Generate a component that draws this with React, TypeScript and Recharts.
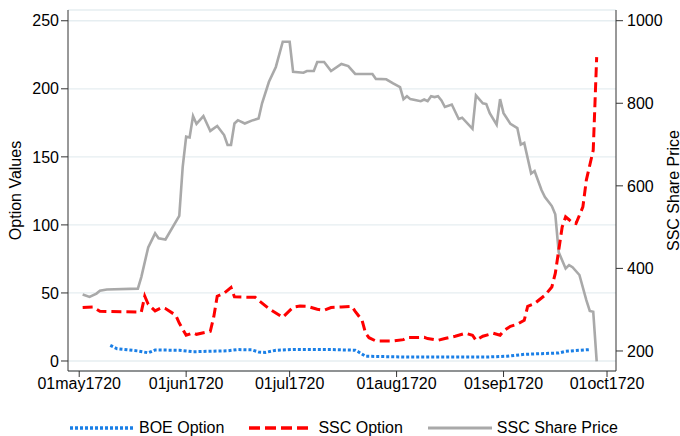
import React from 'react';
import { LineChart, Line, XAxis, YAxis, CartesianGrid, Legend, Label } from 'recharts';

// x values are days since 01may1720
const xTickDays = [0, 31, 61, 92, 123, 153];
const xTickLabels = ['01may1720', '01jun1720', '01jul1720', '01aug1720', '01sep1720', '01oct1720'];
const leftTicks = [0, 50, 100, 150, 200, 250];
const rightTicks = [200, 400, 600, 800, 1000];

const boeDays = [9, 11, 17, 20, 22, 29, 33, 43, 46, 50, 52, 54, 57, 62, 73, 80, 81, 83, 95, 107, 118, 124, 129, 134, 139, 141, 148];
const boeValues = [11.5, 9.0, 7.4, 6.0, 8.1, 7.9, 6.8, 7.5, 8.4, 8.2, 6.6, 6.3, 7.9, 8.5, 8.4, 7.9, 6.6, 3.5, 2.9, 2.9, 2.9, 3.5, 4.9, 5.4, 5.9, 7.1, 8.4];

const sscDays = [1, 4, 6, 18, 19, 20, 22, 24, 25, 28, 29, 31, 33, 34, 38, 39, 40, 42, 44, 45, 51, 52, 55, 59, 62, 64, 66, 69, 71, 73, 76, 79, 80, 82, 83, 84, 86, 91, 94, 95, 100, 101, 104, 106, 109, 112, 114, 115, 117, 120, 122, 123, 125, 127, 129, 130, 132, 135, 137, 138, 139, 140, 141, 142, 143, 144, 146, 147, 149, 150];
const sscValues = [39.3, 39.7, 36.5, 36.0, 47.6, 41.7, 36.8, 39.3, 38.5, 33.6, 27.9, 18.9, 20.7, 19.6, 21.8, 32.4, 47.6, 49.8, 54.0, 47.1, 46.8, 44.6, 38.5, 32.1, 39.5, 40.4, 40.2, 38.0, 37.3, 39.3, 39.7, 40.1, 36.5, 29.9, 20.4, 17.1, 14.7, 14.7, 15.7, 17.2, 17.4, 16.5, 15.2, 16.5, 18.2, 20.4, 18.9, 15.2, 18.2, 20.4, 18.9, 22.1, 25.5, 27.0, 29.9, 40.2, 42.2, 48.3, 54.4, 64.3, 81.4, 98.5, 105.9, 103.8, 101.5, 101.0, 113.2, 132.9, 154.9, 223.3];

const priceDays = [1, 3, 5, 6, 8, 17, 18, 20, 22, 23, 25, 29, 30, 31, 32, 33, 34, 36, 38, 40, 42, 43, 44, 45, 46, 48, 50, 52, 53, 55, 57, 59, 61, 62, 65, 66, 68, 69, 71, 73, 76, 78, 80, 85, 86, 89, 91, 93, 94, 95, 96, 99, 100, 101, 102, 103, 104, 105, 106, 108, 110, 111, 114, 115, 117, 118, 119, 121, 122, 123, 125, 127, 128, 129, 131, 132, 134, 135, 137, 138, 139, 141, 142, 143, 145, 147, 148, 149, 150];
const priceValues = [337, 331, 339, 346, 349, 351, 379, 451, 485, 473, 470, 527, 646, 719, 717, 769, 750, 769, 733, 745, 723, 699, 699, 751, 759, 751, 758, 763, 800, 852, 888, 949, 949, 876, 874, 878, 878, 900, 900, 878, 895, 890, 871, 871, 859, 858, 848, 839, 810, 817, 810, 805, 809, 805, 817, 815, 817, 807, 791, 797, 762, 765, 738, 819, 800, 798, 776, 748, 810, 776, 750, 740, 700, 704, 630, 636, 590, 573, 551, 531, 439, 400, 408, 403, 384, 323, 297, 295, 175];

const zip = (days: number[], vals: number[]) => days.map((d, i) => ({ d, v: vals[i] }));
const boeData = zip(boeDays, boeValues);
const sscData = zip(sscDays, sscValues);
const priceData = zip(priceDays, priceValues);

const FONT = "'Liberation Sans', Arial, Helvetica, sans-serif";
const BLUE = '#1a7fe6';
const RED = '#ff0000';
const GRAY = '#a9a9a9';
const AXIS = '#333333';

const legendItems = [
  { name: 'BOE Option', color: BLUE, dash: '3 2', width: 3.5 },
  { name: 'SSC Option', color: RED, dash: '11 5', width: 3.5 },
  { name: 'SSC Share Price', color: GRAY, dash: undefined, width: 3 },
];

const renderLegend = () => (
  <div style={{ position: 'relative', width: 680, height: 30, fontFamily: FONT, fontSize: 16, color: '#000' }}>
    <div style={{ position: 'absolute', left: 70, top: 14, display: 'flex', alignItems: 'center', lineHeight: '16px' }}>
      {legendItems.map((it, i) => (
        <div key={it.name} style={{ display: 'flex', alignItems: 'center', marginRight: i < legendItems.length - 1 ? 25 : 0 }}>
          <svg width={64} height={8} style={{ marginRight: 5, display: 'block' }}>
            <line x1={0} y1={4} x2={64} y2={4} stroke={it.color} strokeWidth={it.width} strokeDasharray={it.dash} />
          </svg>
          <span style={{ whiteSpace: 'nowrap' }}>{it.name}</span>
        </div>
      ))}
    </div>
  </div>
);

const leftTitle = (props: any) => {
  const vb = props.viewBox || { x: 0, y: 10, width: 68, height: 361 };
  const x = vb.x + 15;
  const y = vb.y + vb.height / 2;
  return (
    <text x={x} y={y} transform={`rotate(-90 ${x} ${y})`} textAnchor="middle" dominantBaseline="central" fontSize={16} fontFamily={FONT} fill="#000">
      Option Values
    </text>
  );
};

const rightTitle = (props: any) => {
  const vb = props.viewBox || { x: 616, y: 10, width: 64, height: 361 };
  const x = vb.x + 57;
  const y = vb.y + vb.height / 2;
  return (
    <text x={x} y={y} transform={`rotate(-90 ${x} ${y})`} textAnchor="middle" dominantBaseline="central" fontSize={16} fontFamily={FONT} fill="#000">
      SSC Share Price
    </text>
  );
};

export default function App() {
  return (
    <div style={{ position: 'absolute', left: 0, top: 0, width: 680, height: 436, background: '#fff', fontFamily: FONT }}>
      <LineChart width={680} height={436} margin={{ top: 10, right: 0, left: 0, bottom: 0 }}>
        <CartesianGrid yAxisId="left" vertical={false} stroke="#e6eef1" strokeWidth={1.3} />
        <XAxis
          type="number"
          dataKey="d"
          domain={[-3.25, 155.6]}
          allowDataOverflow
          ticks={xTickDays}
          interval={0}
          tickFormatter={(v: number) => xTickLabels[xTickDays.indexOf(v)] ?? ''}
          height={35}
          tickSize={6}
          tickMargin={1}
          stroke={AXIS}
          tick={{ fill: '#000', fontSize: 16, fontFamily: FONT }}
        />
        <YAxis
          yAxisId="left"
          domain={[-7.35, 257.9]}
          allowDataOverflow
          ticks={leftTicks}
          interval={0}
          width={68}
          tickSize={7}
          tickMargin={2}
          stroke={AXIS}
          tick={{ fill: '#000', fontSize: 16, fontFamily: FONT }}
        >
          <Label content={leftTitle} />
        </YAxis>
        <YAxis
          yAxisId="right"
          orientation="right"
          domain={[151.5, 1025.9]}
          allowDataOverflow
          ticks={rightTicks}
          interval={0}
          width={64}
          tickSize={7}
          tickMargin={4}
          stroke={AXIS}
          tick={{ fill: '#000', fontSize: 16, fontFamily: FONT }}
        >
          <Label content={rightTitle} />
        </YAxis>
        <Line data={priceData} dataKey="v" yAxisId="right" name="SSC Share Price" type="linear" stroke={GRAY} strokeWidth={2.6} dot={false} activeDot={false} isAnimationActive={false} />
        <Line data={sscData} dataKey="v" yAxisId="left" name="SSC Option" type="linear" stroke={RED} strokeWidth={3} strokeDasharray="10 5" dot={false} activeDot={false} isAnimationActive={false} />
        <Line data={boeData} dataKey="v" yAxisId="left" name="BOE Option" type="linear" stroke={BLUE} strokeWidth={3} strokeDasharray="3 2" dot={false} activeDot={false} isAnimationActive={false} />
        <Legend verticalAlign="bottom" content={renderLegend} wrapperStyle={{ left: 0, bottom: 0, width: 680, height: 30 }} />
      </LineChart>
    </div>
  );
}
